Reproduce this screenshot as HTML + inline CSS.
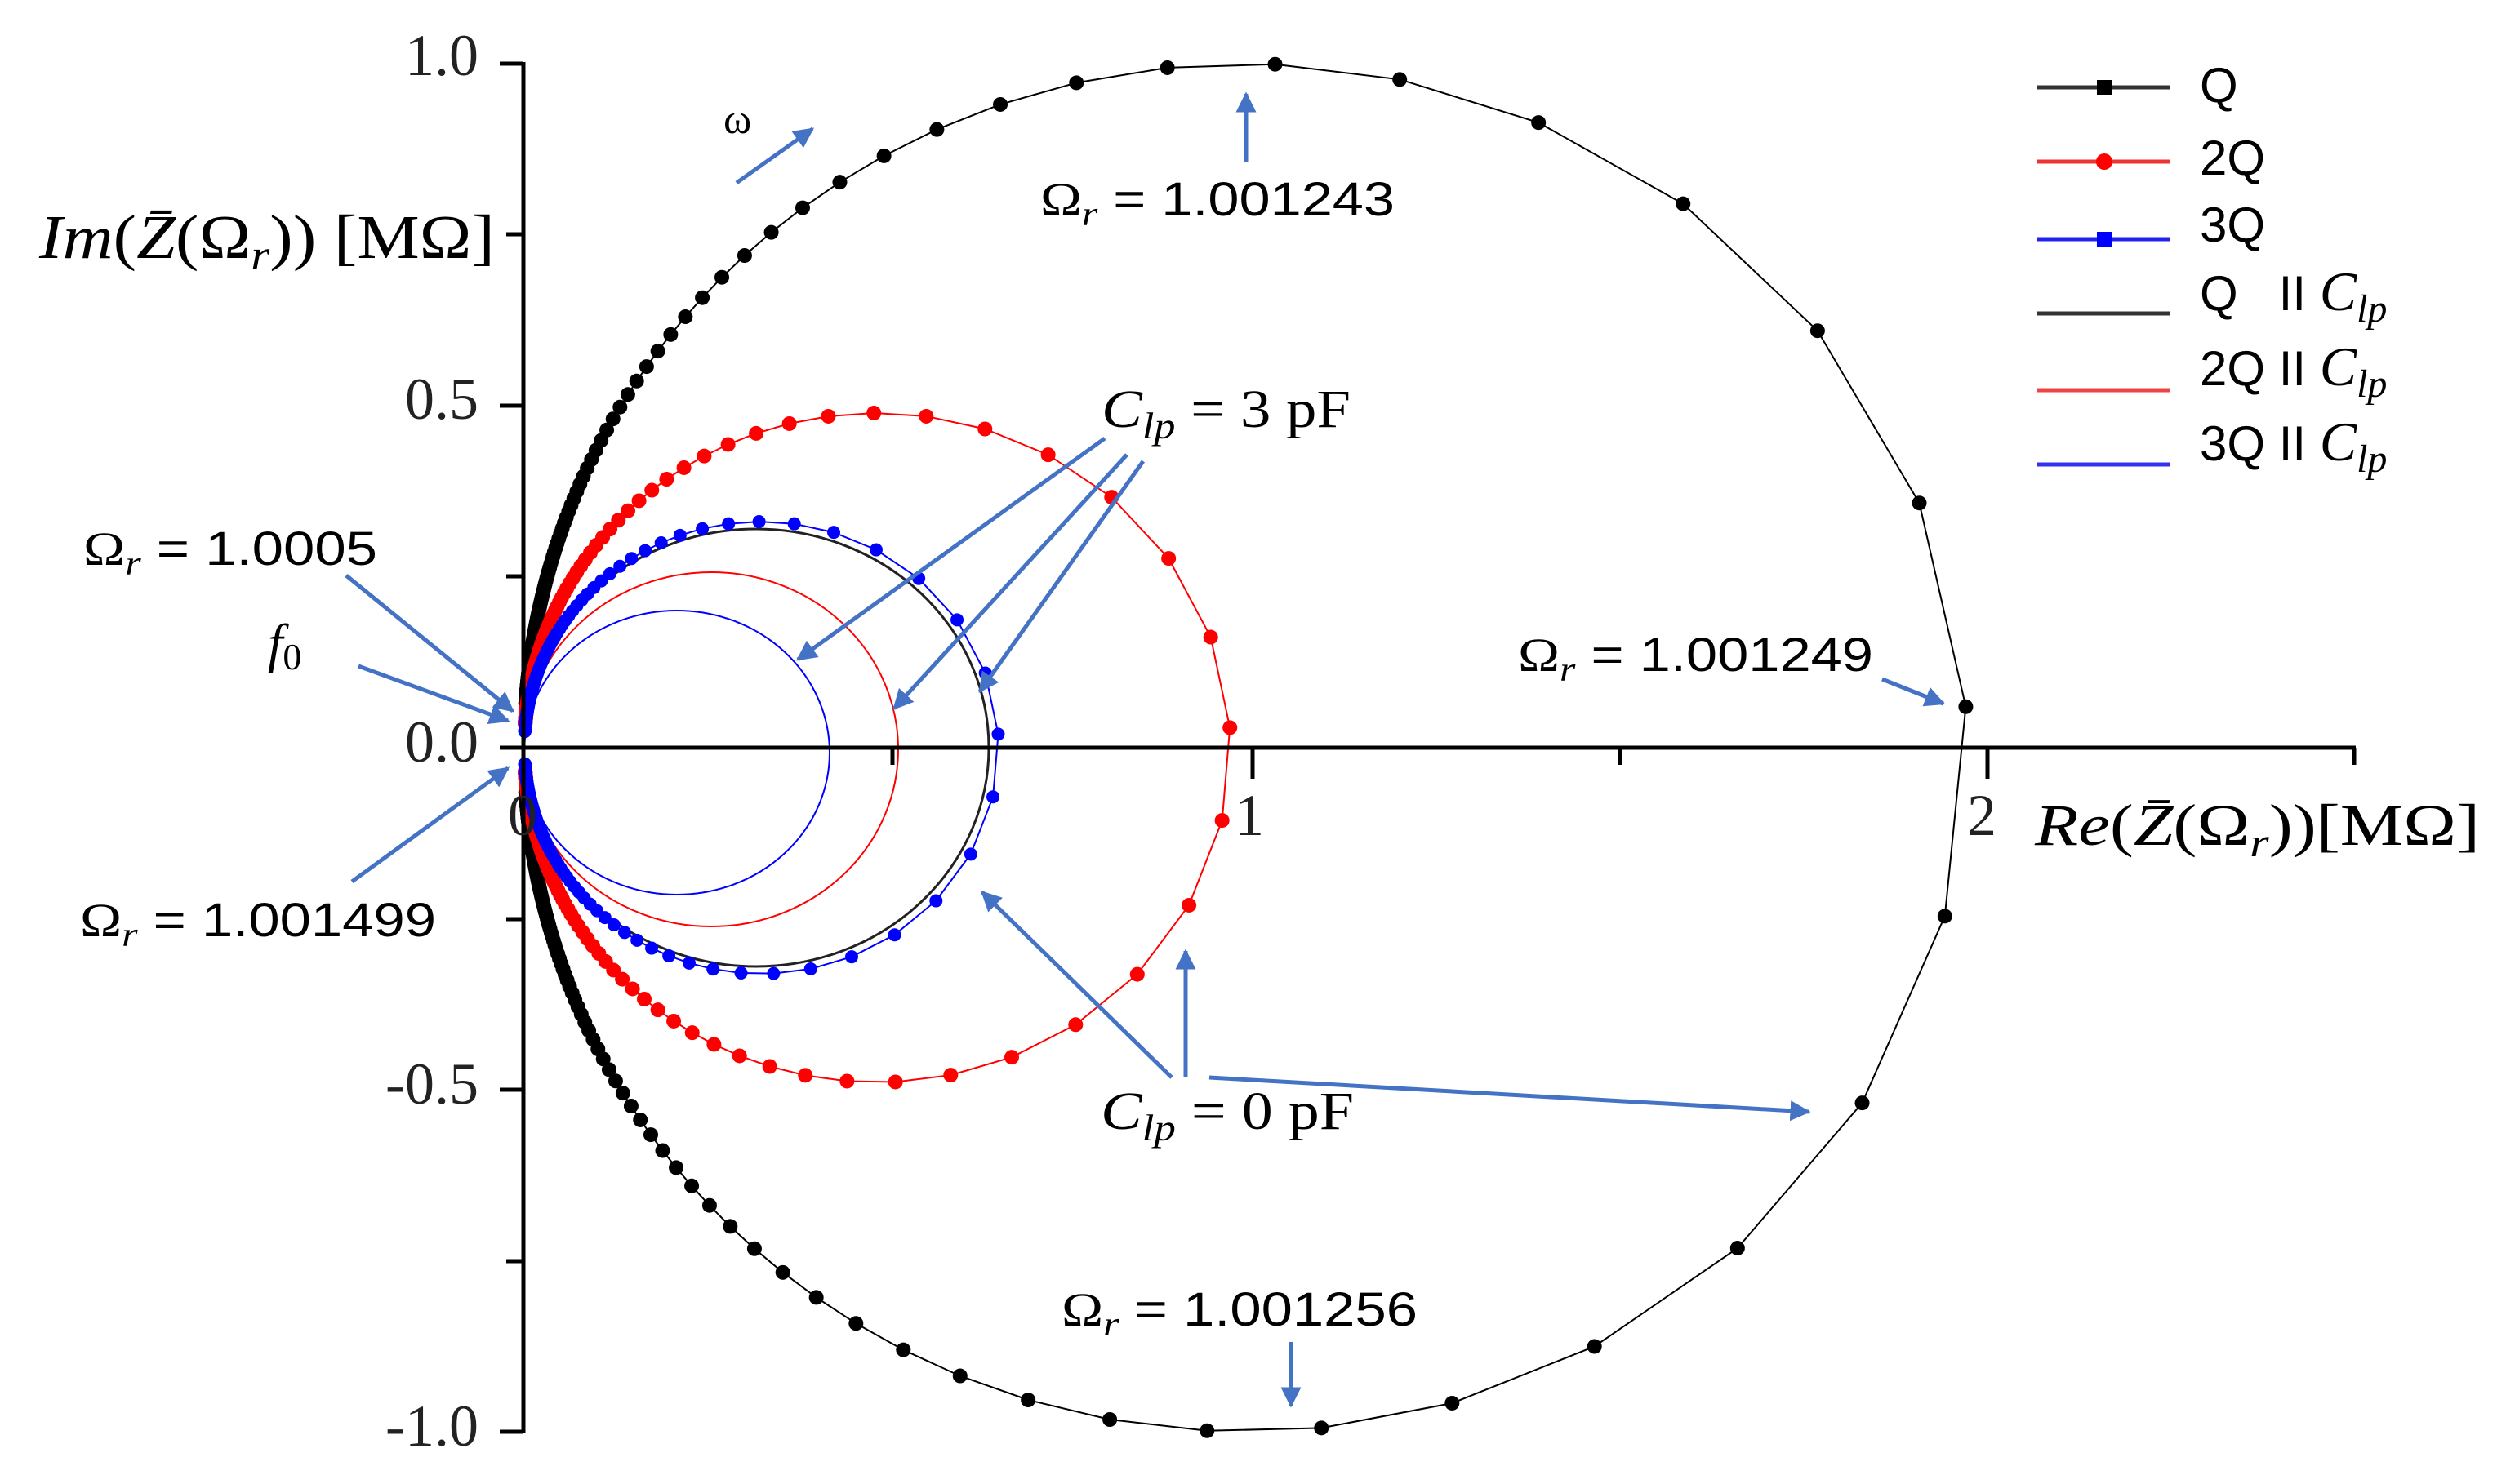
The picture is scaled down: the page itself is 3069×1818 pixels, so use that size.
<!DOCTYPE html>
<html><head><meta charset="utf-8">
<style>
html,body{margin:0;padding:0;background:#fff;}
svg{display:block;}
.s{font-family:"Liberation Serif",serif;}
.a{font-family:"Liberation Sans",sans-serif;}
</style></head>
<body>
<svg id="g" width="3069" height="1818" viewBox="0 0 3069 1818" xmlns="http://www.w3.org/2000/svg">
<defs>
<marker id="ah" viewBox="0 0 10 10" refX="9" refY="5" markerWidth="5" markerHeight="5" orient="auto" markerUnits="strokeWidth">
<path d="M0,0 L10,5 L0,10 z" fill="#4472C4"/>
</marker>
</defs>
<rect width="3069" height="1818" fill="#fff"/>
<g id="curves"></g>
<ellipse cx="926" cy="916" rx="285" ry="268" fill="none" stroke="#222" stroke-width="3"/>
<ellipse cx="871" cy="918" rx="229" ry="217" fill="none" stroke="#f00" stroke-width="2"/>
<ellipse cx="829" cy="922" rx="187" ry="174" fill="none" stroke="#00f" stroke-width="2"/>
<g id="dots"></g>
<g stroke="#000" stroke-width="5" fill="none">
<line x1="641" y1="76" x2="641" y2="1756"/>
<line x1="612" y1="78" x2="641" y2="78"/>
<line x1="620" y1="287" x2="641" y2="287"/>
<line x1="612" y1="497" x2="641" y2="497"/>
<line x1="620" y1="706" x2="641" y2="706"/>
<line x1="612" y1="916" x2="2885" y2="916"/>
<line x1="620" y1="1126" x2="641" y2="1126"/>
<line x1="612" y1="1335" x2="641" y2="1335"/>
<line x1="620" y1="1545" x2="641" y2="1545"/>
<line x1="612" y1="1754" x2="641" y2="1754"/>
<line x1="1093" y1="916" x2="1093" y2="937"/>
<line x1="1534" y1="916" x2="1534" y2="954"/>
<line x1="1984" y1="916" x2="1984" y2="937"/>
<line x1="2434" y1="916" x2="2434" y2="954"/>
<line x1="2883" y1="916" x2="2883" y2="937"/>
</g>
<g class="s" font-size="72" fill="#222" text-anchor="end">
<text x="586" y="92">1.0</text>
<text x="586" y="513">0.5</text>
<text x="586" y="933">0.0</text>
<text x="586" y="1352">-0.5</text>
<text x="586" y="1771">-1.0</text>
</g>
<g class="s" font-size="72" fill="#222" text-anchor="middle">
<text x="640" y="1023">0</text>
<text x="1530" y="1023">1</text>
<text x="2427" y="1023">2</text>
</g>
<text class="s" x="48" y="316" font-size="76" textLength="558" lengthAdjust="spacingAndGlyphs"><tspan font-style="italic">Im</tspan>(<tspan font-style="italic">Z̄</tspan>(Ω<tspan font-style="italic" font-size="52" dy="14">r</tspan><tspan dy="-14">)) [MΩ]</tspan></text>
<text class="s" x="2492" y="1035" font-size="72" textLength="545" lengthAdjust="spacingAndGlyphs"><tspan font-style="italic">Re</tspan>(<tspan font-style="italic">Z̄</tspan>(Ω<tspan font-style="italic" font-size="50" dy="14">r</tspan><tspan dy="-14">))[MΩ]</tspan></text>
<g stroke-width="5">
<line x1="2495" y1="107" x2="2658" y2="107" stroke="#333"/>
<line x1="2495" y1="198" x2="2658" y2="198" stroke="#e33"/>
<line x1="2495" y1="293" x2="2658" y2="293" stroke="#22e"/>
<line x1="2495" y1="384" x2="2658" y2="384" stroke="#333"/>
<line x1="2495" y1="478" x2="2658" y2="478" stroke="#e44"/>
<line x1="2495" y1="569" x2="2658" y2="569" stroke="#33e"/>
</g>
<rect x="2568" y="98" width="18" height="18" fill="#000"/>
<circle cx="2577" cy="198" r="10" fill="#f00"/>
<rect x="2568" y="284" width="18" height="18" fill="#00f"/>
<g class="a" font-size="60" fill="#000">
<text x="2694" y="125">Q</text>
<text x="2694" y="214">2Q</text>
<text x="2694" y="296">3Q</text>
<text x="2694" y="380">Q&#160;&#160;&#160;II <tspan class="s" font-style="italic" font-size="68">C</tspan><tspan class="s" font-style="italic" font-size="48" dy="14">lp</tspan></text>
<text x="2694" y="472">2Q II <tspan class="s" font-style="italic" font-size="68">C</tspan><tspan class="s" font-style="italic" font-size="48" dy="14">lp</tspan></text>
<text x="2694" y="564">3Q II <tspan class="s" font-style="italic" font-size="68">C</tspan><tspan class="s" font-style="italic" font-size="48" dy="14">lp</tspan></text>
</g>
<g fill="#000">
<text class="s" x="886" y="163" font-size="52">ω</text>
<text class="a" x="1274" y="264" font-size="58" textLength="434" lengthAdjust="spacingAndGlyphs"><tspan class="s">Ω</tspan><tspan class="s" font-style="italic" font-size="42" dy="12">r</tspan><tspan dy="-12"> = 1.001243</tspan></text>
<text class="s" x="1349" y="523" font-size="66" textLength="305" lengthAdjust="spacingAndGlyphs"><tspan font-style="italic">C</tspan><tspan font-style="italic" font-size="46" dy="14">lp</tspan><tspan dy="-14"> = 3 pF</tspan></text>
<text class="a" x="1859" y="822" font-size="58" textLength="435" lengthAdjust="spacingAndGlyphs"><tspan class="s">Ω</tspan><tspan class="s" font-style="italic" font-size="42" dy="12">r</tspan><tspan dy="-12"> = 1.001249</tspan></text>
<text class="a" x="102" y="692" font-size="58" textLength="360" lengthAdjust="spacingAndGlyphs"><tspan class="s">Ω</tspan><tspan class="s" font-style="italic" font-size="42" dy="12">r</tspan><tspan dy="-12"> = 1.0005</tspan></text>
<text class="s" x="328" y="810" font-size="66"><tspan font-style="italic">f</tspan><tspan font-size="46" dy="10">0</tspan></text>
<text class="a" x="98" y="1147" font-size="58" textLength="436" lengthAdjust="spacingAndGlyphs"><tspan class="s">Ω</tspan><tspan class="s" font-style="italic" font-size="42" dy="12">r</tspan><tspan dy="-12"> = 1.001499</tspan></text>
<text class="s" x="1348" y="1383" font-size="66" textLength="310" lengthAdjust="spacingAndGlyphs"><tspan font-style="italic">C</tspan><tspan font-style="italic" font-size="46" dy="14">lp</tspan><tspan dy="-14"> = 0 pF</tspan></text>
<text class="a" x="1300" y="1624" font-size="58" textLength="436" lengthAdjust="spacingAndGlyphs"><tspan class="s">Ω</tspan><tspan class="s" font-style="italic" font-size="42" dy="12">r</tspan><tspan dy="-12"> = 1.001256</tspan></text>
</g>
<g stroke="#4472C4" stroke-width="5" fill="none" marker-end="url(#ah)">
<line x1="902" y1="224" x2="995" y2="158"/>
<line x1="1526" y1="198" x2="1526" y2="115"/>
<line x1="1353" y1="537" x2="977" y2="808"/>
<line x1="1380" y1="557" x2="1095" y2="868"/>
<line x1="1400" y1="565" x2="1200" y2="847"/>
<line x1="2305" y1="832" x2="2380" y2="862"/>
<line x1="424" y1="705" x2="628" y2="871"/>
<line x1="439" y1="816" x2="622" y2="883"/>
<line x1="431" y1="1080" x2="622" y2="941"/>
<line x1="1452" y1="1320" x2="1452" y2="1165"/>
<line x1="1435" y1="1320" x2="1203" y2="1093"/>
<line x1="1481" y1="1320" x2="2215" y2="1362"/>
<line x1="1581" y1="1644" x2="1581" y2="1722"/>
</g>
</svg>
<script>
(function(){
var NS="http://www.w3.org/2000/svg";
var curves=document.getElementById("curves"), dots=document.getElementById("dots");
function series(dx,dy,step,off,N,col,r){
  var pts=[];
  for(var k=-N;k<=N;k++){
    var x=off+k*step, d=1+x*x;
    pts.push([642+dx/d, 916-dy*x/d]);
  }
  var pl=document.createElementNS(NS,"polyline");
  pl.setAttribute("points",pts.map(function(p){return p[0].toFixed(1)+","+p[1].toFixed(1);}).join(" "));
  pl.setAttribute("fill","none");pl.setAttribute("stroke",col);pl.setAttribute("stroke-width","2");
  curves.appendChild(pl);
  pts.forEach(function(p){
    var c=document.createElementNS(NS,"circle");c.setAttribute("cx",p[0]);c.setAttribute("cy",p[1]);c.setAttribute("r",r);
    c.setAttribute("fill",col);dots.appendChild(c);
  });
}
series(1767,1676,0.155,0.03,200,"#000",9);
series(865,820,0.14,0.03,200,"#f00",9);
series(581,554,0.14,0.03,200,"#00f",8);
})();
</script>
</body></html>
